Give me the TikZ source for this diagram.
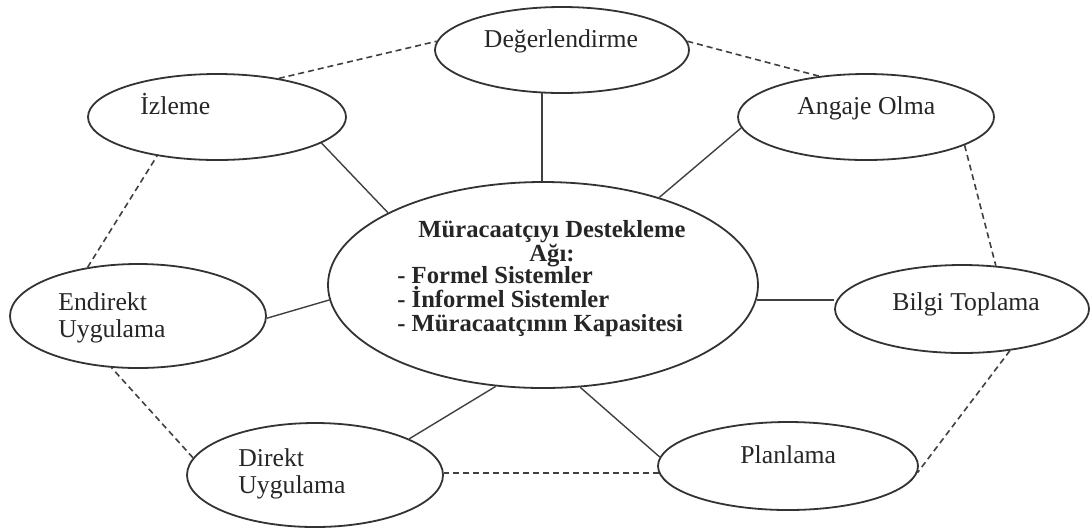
\documentclass[tikz,border=0pt]{standalone}
\usepackage{fontspec}
\setmainfont{Liberation Serif}
\usetikzlibrary{shapes.geometric}

\begin{document}
\begin{tikzpicture}[
    x=0.5pt, y=-0.5pt,
    stage/.style={%
      draw=black!80,
      ellipse,
      line width=0.9pt,
      inner sep=0pt,
    },
    txt/.style={%
      inner sep=0pt,
      align=left,
      text=black!85,
      font=\fontsize{12.85}{13.75}\selectfont,
    },
    bold/.style={%
      txt,
      font=\bfseries\fontsize{12.3}{12}\selectfont,
    },
    link/.style={draw=black!75, line width=0.7pt},
    ring/.style={draw=black!75, line width=0.8pt, dash pattern=on 3pt off 2pt},
  ]

    \useasboundingbox (0,0) rectangle (1091,527);

    \node [stage, minimum width=127pt, minimum height=43pt] (deg) at (562,50) {};
    \node [stage, minimum width=129pt, minimum height=43pt] (izl) at (217,117) {};
    \node [stage, minimum width=128pt, minimum height=43pt] (ang) at (866,117) {};
    \node [stage, minimum width=215pt, minimum height=103pt] (ctr) at (543,285) {};
    \node [stage, minimum width=128pt, minimum height=52pt] (endi) at (138,316) {};
    \node [stage, minimum width=127pt, minimum height=44pt] (bil) at (962,309) {};
    \node [stage, minimum width=128pt, minimum height=52pt] (dir) at (315,475) {};
    \node [stage, minimum width=130pt, minimum height=44pt] (pla) at (788,466) {};

    \node [txt, anchor=base] (deg-t) at (561,47) {Değerlendirme};
    \node [txt, anchor=base west] (izl-t) at (140,114) {İzleme};
    \node [txt, anchor=base west] (ang-t) at (797,114) {Angaje Olma};
    \node [txt, anchor=base west] (bil-t) at (892,310) {Bilgi Toplama};
    \node [txt, anchor=base west] (pla-t) at (740,463) {Planlama};
    \node [txt, anchor=north west] (endi-t) at (58,292) {Endirekt\\Uygulama};
    \node [txt, anchor=north west] (dir-t) at (238,448) {Direkt\\Uygulama};
    \node [bold, align=center, anchor=north] (ctr-t) at (552,220) {Müracaatçıyı Destekleme\\Ağı:};
    \node [bold, anchor=north west] (ctr-l) at (397,266) {- Formel Sistemler\\- İnformel Sistemler\\- Müracaatçının Kapasitesi};

    \draw [link] (deg.-115) -- (deg.-115 |- ctr.north);
    \draw [link] (izl.-14) -- (ctr.155);
    \draw [link] (ang.-175.5) -- (ctr.37);
    \draw [link] (endi.-1) -- (ctr.184);
    \draw [link] (ctr.-4) -- (ctr.-4 -| bil.west);
    \draw [link] (dir.21) -- (ctr.-115);
    \draw [link] (pla.176) -- (ctr.-70);

    \draw [ring] (izl.32) -- (deg.176);
    \draw [ring] (deg.4) -- (ang.139);
    \draw [ring] (ang.-16) -- (bil.52);
    \draw [ring] (bil.-41) -- (pla.-3);
    \draw [ring] (pla.183) -- (pla.183 -| dir.east);
    \draw [ring] (dir.172) -- (endi.-117);
    \draw [ring] (endi.136) -- (izl.-147);
\end{tikzpicture}
\end{document}
